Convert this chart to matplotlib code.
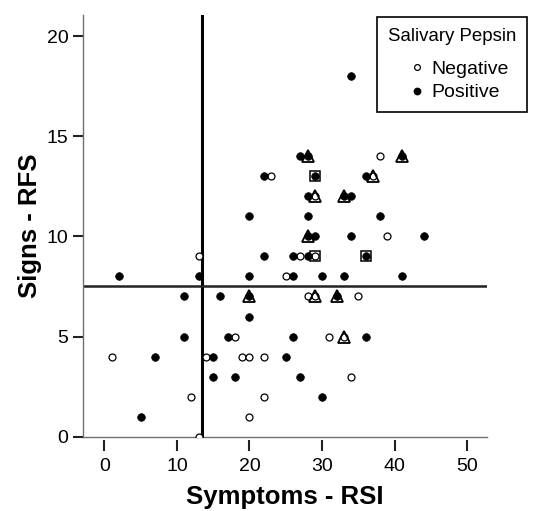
import matplotlib
matplotlib.use("Agg")
import matplotlib.pyplot as plt
from matplotlib.lines import Line2D

plt.rcParams['font.family'] = ['Liberation Sans', 'DejaVu Sans']

# Salivary pepsin negative (open circles)
neg_x = [13, 25, 18, 1, 14, 19, 20, 22, 12, 22, 20, 13, 23, 38, 39, 27, 29, 28, 29, 35, 31, 33, 34, 37, 29]
neg_y = [9, 8, 5, 4, 4, 4, 4, 4, 2, 2, 1, 0, 13, 14, 10, 9, 9, 7, 7, 7, 5, 5, 3, 13, 12]

# Salivary pepsin positive (filled circles)
pos_x = [2, 13, 11, 16, 20, 20, 20, 22, 11, 17, 7, 15, 25, 15, 18, 5, 26, 26, 28, 36,
         28, 29, 34, 44, 30, 33, 41, 32, 26, 36, 27, 30, 34, 27, 28, 41, 29, 36, 28, 33,
         34, 28, 38, 22, 20]
pos_y = [8, 8, 7, 7, 8, 7, 6, 9, 5, 5, 4, 4, 4, 3, 3, 1, 8, 9, 9, 9,
         10, 10, 10, 10, 8, 8, 8, 7, 5, 5, 3, 2, 18, 14, 14, 14, 13, 13, 12, 12,
         12, 11, 11, 13, 11]

# Overlay markers
tri_x = [20, 28, 28, 41, 33, 32, 29, 33, 37, 29]
tri_y = [7, 10, 14, 14, 12, 7, 7, 5, 13, 12]
sq_x = [29, 36, 29]
sq_y = [9, 9, 13]

x_ref = 13.5
y_ref = 7.5
x_ticks = [0, 10, 20, 30, 40, 50]
y_ticks = [0, 5, 10, 15, 20]

W, H = 539, 511
fig = plt.figure(figsize=(W / 100, H / 100), dpi=100)
L, R, B, T = 83.3, 486.7, 436.7, 15.0
ax = fig.add_axes([L / W, 1 - B / H, (R - L) / W, (B - T) / H])

ax.set_xlim(-2.89, 52.67)
ax.set_ylim(0, 21.05)

ax.axvline(x_ref, color='black', lw=2.2, zorder=2)
ax.axhline(y_ref, color='#222222', lw=1.8, zorder=2)

ax.plot(neg_x, neg_y, 'o', ms=5.0, mfc='white', mec='black', mew=0.9, ls='none', zorder=3)
ax.plot(pos_x, pos_y, 'o', ms=5.5, mfc='black', mec='black', mew=0.5, ls='none', zorder=3)
ax.plot(tri_x, tri_y, '^', ms=9.0, mfc='none', mec='black', mew=1.3, ls='none', zorder=4)
ax.plot(sq_x, sq_y, 's', ms=7.8, mfc='none', mec='black', mew=1.1, ls='none', zorder=4)

for s in ['top', 'right']:
    ax.spines[s].set_visible(False)
ax.spines['left'].set_color('#707070')
ax.spines['left'].set_linewidth(1.0)
ax.spines['bottom'].set_color('none')
ax.spines['bottom'].set_position(('outward', 2.2))
ax.axhline(0, color='#707070', lw=1.0, zorder=1, clip_on=False)

ax.set_xticks(x_ticks)
ax.set_yticks(y_ticks)
ax.tick_params(axis='x', direction='out', length=8, width=1.5, color='#222222',
               pad=5, labelsize=14)
ax.tick_params(axis='y', direction='out', length=7, width=1.5, color='#222222',
               pad=3.6, labelsize=14)

ax.set_xlabel('Symptoms - RSI', fontsize=18.5, fontweight='bold', va='center')
ax.xaxis.set_label_coords(0.5, -0.143)
ax.set_ylabel('Signs - RFS', fontsize=18.5, fontweight='bold', va='center')
ax.yaxis.set_label_coords(-0.132, 0.5)

handles = [
    Line2D([], [], marker='o', ls='none', ms=4.2, mfc='white', mec='black', mew=0.9),
    Line2D([], [], marker='o', ls='none', ms=4.6, mfc='black', mec='black'),
]
leg = fig.legend(handles, ['Negative', 'Positive'], title='Salivary Pepsin',
                 loc='upper right', bbox_to_anchor=(527 / W, 1 - 17.3 / H),
                 borderaxespad=0,
                 fontsize=14, title_fontsize=13.4, fancybox=False, framealpha=1,
                 edgecolor='black', handlelength=2.23, handletextpad=-0.41,
                 labelspacing=0.3, borderpad=0.55)
leg.get_frame().set_linewidth(1.2)
leg._legend_box.sep = 11

fig.savefig('out.png', dpi=100)
